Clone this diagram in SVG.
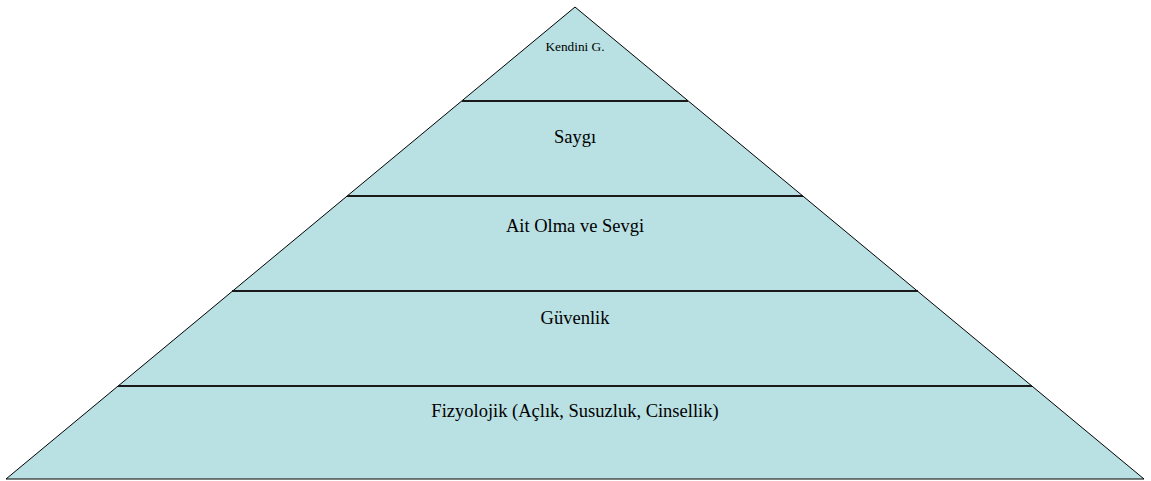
<svg xmlns="http://www.w3.org/2000/svg" width="1151" height="481" viewBox="0 0 1151 481">
<style>
.lvl{fill:#B9E0E3;stroke:none}
.edge{fill:none;stroke:#000;stroke-width:1}
.sep{stroke:#1a1a1a;stroke-width:2}
text{font-family:"Liberation Serif","Times New Roman",serif;fill:#000;text-anchor:middle}
.t{font-size:18.5px}
.s{font-size:13.3px}
</style>
<rect width="1151" height="481" fill="#fff"/>
<g id="pyramid">
<polygon class="lvl" points="575,7 1144,479 6,479"/>
<polygon class="edge" points="575,7 1144,479 6,479"/>
</g>
<g id="connectors">
<line class="sep" x1="462" y1="101" x2="688" y2="101"/>
<line class="sep" x1="347" y1="196" x2="803" y2="196"/>
<line class="sep" x1="232" y1="291" x2="918" y2="291"/>
<line class="sep" x1="118" y1="386" x2="1032" y2="386"/>
</g>
<g id="node-kendini"><text class="s" x="575" y="51">Kendini G.</text></g>
<g id="node-saygi"><text class="t" x="575" y="143">Saygı</text></g>
<g id="node-ait"><text class="t" x="575" y="232">Ait Olma ve Sevgi</text></g>
<g id="node-guvenlik"><text class="t" x="575" y="324">Güvenlik</text></g>
<g id="node-fizyolojik"><text class="t" x="575" y="417">Fizyolojik (Açlık, Susuzluk, Cinsellik)</text></g>
</svg>
